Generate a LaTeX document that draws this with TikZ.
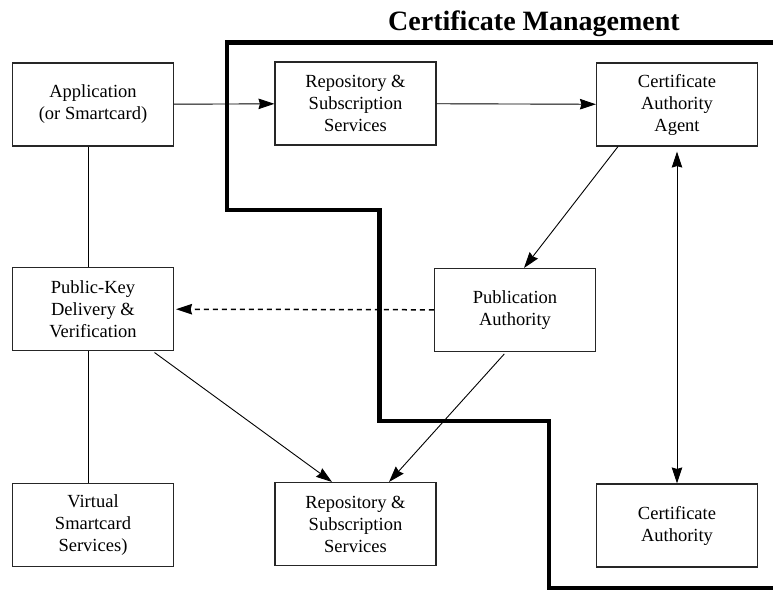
\documentclass[tikz,border=0pt]{standalone}
\usepackage{fontspec}
\setmainfont{Liberation Serif}
\usetikzlibrary{arrows.meta}

\begin{document}
\begin{tikzpicture}[
x=1pt, y=-1pt,
box/.style={
  draw=black!85,
  line width=1.1pt,
  minimum width=161pt,
  minimum height=83pt,
  align=center,
  font=\fontsize{18.5}{22}\selectfont
  },
link/.style={
  line width=0.9pt
  },
border/.style={
  line width=4.5pt
  },
>={Stealth[length=16pt,width=10.5pt,inset=1.5pt]}
]
\useasboundingbox (0,0) rectangle (773,590);
\node[font=\fontsize{28}{30}\selectfont\bfseries] (title) at (534,24) {Certificate Management};

\node[box] (app) at (93,104.5) {Application\\(or Smartcard)};
\node[box] (repotop) at (355.5,103.5) {Repository \&\\Subscription\\Services};
\node[box] (agent) at (677,104.5) {Certificate\\Authority\\Agent};
\node[box] (pubkey) at (93,309) {Public-Key\\Delivery \&\\Verification};
\node[box] (pubauth) at (515,310) {Publication\\Authority};
\node[box] (virtual) at (93,525) {Virtual\\Smartcard\\Services)};
\node[box] (repobot) at (355.5,524) {Repository \&\\Subscription\\Services};
\node[box] (ca) at (677,525.5) {Certificate\\Authority};

% boundary of the management domain
\draw[border] (773,42.5) -- (227,42.5) -- (227,210) -- (379.5,210)
  -- (379.5,421) -- (549,421) -- (549,588) -- (773,588);

\draw[link,->] (app) -- (repotop);
\draw[link,->] (repotop) -- (agent);
\draw[link,->] ([xshift=-59pt]agent.south) -- ([xshift=9pt]pubauth.north);
\draw[link,<->,shorten <=5pt] (agent) -- (ca);
\draw[link,->,line width=1.5pt,dash pattern=on 5pt off 4pt,shorten >=2pt] (pubauth) -- (pubkey);
\draw[link,->,shorten <=2.5pt] ([xshift=59.5pt]pubkey.south) -- ([xshift=-23.5pt]repobot.north);
\draw[link,->,shorten <=2.5pt] ([xshift=-9pt]pubauth.south) -- ([xshift=33.5pt]repobot.north);
\draw[link] ([xshift=-5pt]app.south) -- ([xshift=-5pt]pubkey.north);
\draw[link] ([xshift=-5pt]pubkey.south) -- ([xshift=-5pt]virtual.north);

\end{tikzpicture}
\end{document}
